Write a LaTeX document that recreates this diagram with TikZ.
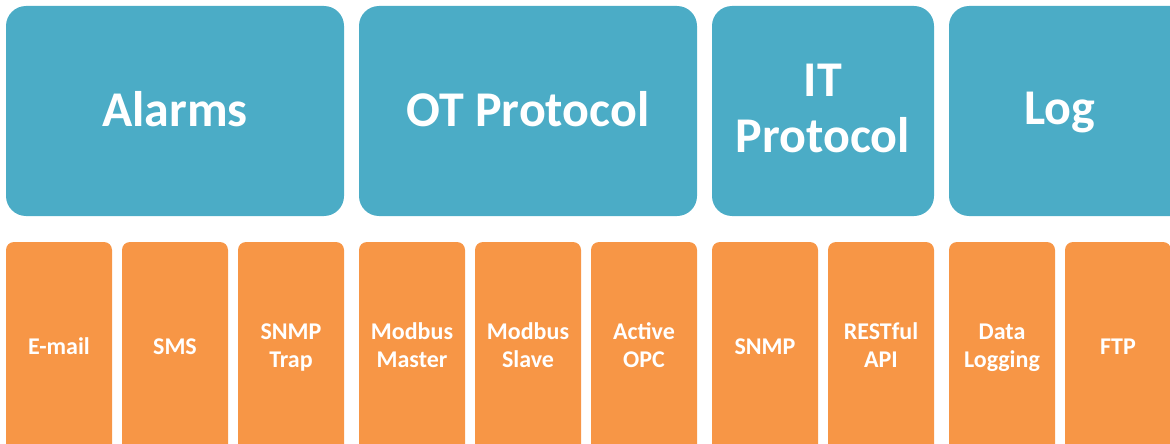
\documentclass[tikz,border=0pt]{standalone}
\usepackage{fontspec}
\setmainfont{Carlito}
\definecolor{topblue}{HTML}{4BACC6}
\definecolor{suborange}{HTML}{F79646}
\begin{document}
\begin{tikzpicture}[x=1pt,y=-1pt,
  topbox/.style={fill=topblue,rounded corners=20pt},
  subbox/.style={fill=suborange,rounded corners=8pt},
  toptext/.style={inner sep=0pt,align=center,anchor=base,text=white,
    font=\fontsize{50}{56}\selectfont\bfseries},
  subtext/.style={inner sep=0pt,align=center,anchor=base,text=white,
    font=\fontsize{24}{27.5}\selectfont\bfseries}]
\useasboundingbox (0,0) rectangle (1170,444);
\clip (0,0) rectangle (1170,444);
% top boxes
\path[topbox] (6,6) rectangle (344,216);
\node[toptext] (alarms) at (175,126) {Alarms};
\path[topbox] (359,6) rectangle (697,216);
\node[toptext] (ot) at (528,126) {OT Protocol};
\path[topbox] (712,6) rectangle (934,216);
\node[toptext] (it) at (823,152.7) {IT\\Protocol};
\path[topbox] (949,6) rectangle (1200,216);
\node[toptext] (log) at (1060,124.5) {Log};
% sub boxes, single line
\foreach \x/\name/\txt in {6/email/E-mail,122/sms/SMS,712/snmp/SNMP,1065/ftp/FTP}{
  \path[subbox] (\x,242) rectangle ++(106,220);
  \node[subtext] (\name) at (\x+53,354) {\txt};
}
% sub boxes, two lines
\foreach \x/\name/\txt in {238/trap/SNMP\\Trap,
  359/mm/Modbus\\Master,475/ms/Modbus\\Slave,591/opc/Active\\OPC,
  828/rest/RESTful\\API,949/dl/Data\\Logging}{
  \path[subbox] (\x,242) rectangle ++(106,220);
  \node[subtext] (\name) at (\x+53,367) {\txt};
}
\end{tikzpicture}
\end{document}
